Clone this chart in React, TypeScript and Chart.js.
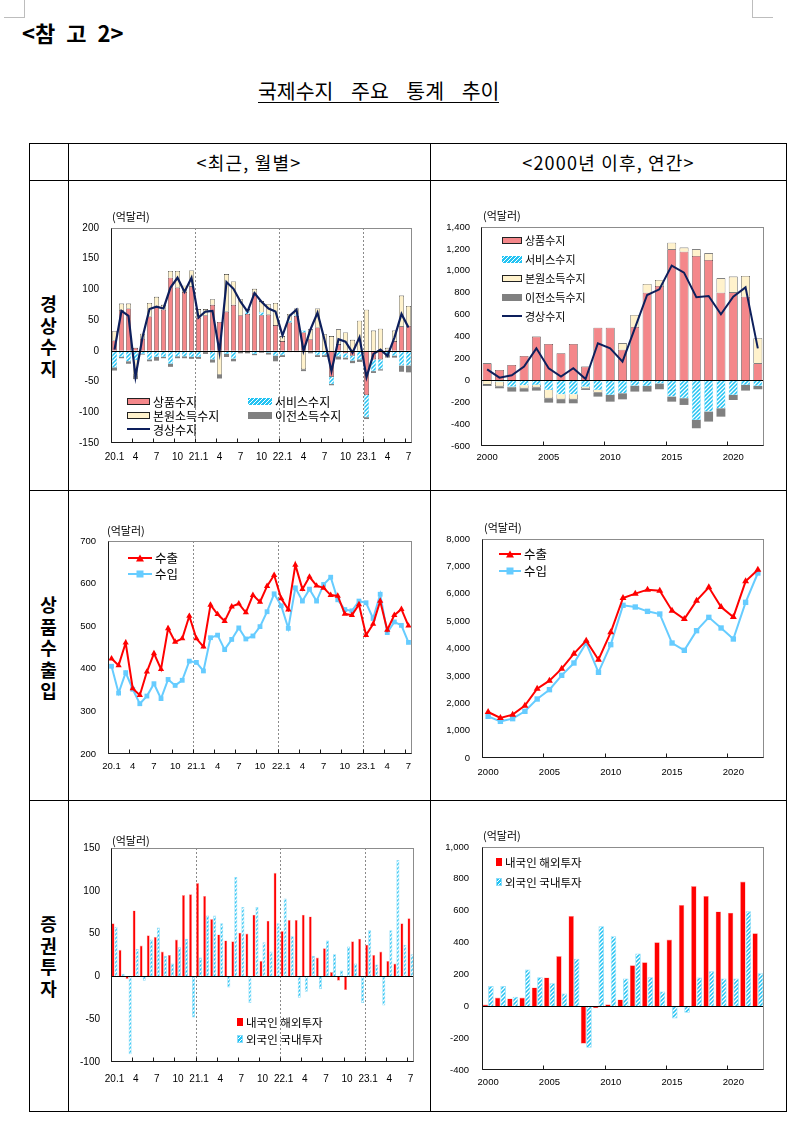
import React, { useEffect, useRef } from 'react';
import { Chart, registerables } from 'chart.js';

Chart.register(...registerables);
Chart.defaults.font.family = '"Liberation Sans", Arial, sans-serif';
Chart.defaults.color = '#000';

const KFONT = '"Noto Sans CJK KR", "Noto Sans", sans-serif';

// ---------------- data ----------------
const monthLabels = [
  '20.1', '', '', '4', '', '', '7', '', '', '10', '', '',
  '21.1', '', '', '4', '', '', '7', '', '', '10', '', '',
  '22.1', '', '', '4', '', '', '7', '', '', '10', '', '',
  '23.1', '', '', '4', '', '', '7',
];
const yearLabels = [
  '2000', '', '', '', '', '2005', '', '', '', '', '2010', '', '', '', '',
  '2015', '', '', '', '', '2020', '', '',
];

// 경상수지 (monthly, 억달러)
const caGoodsM = [17, 66, 69, 5, 20, 56, 72, 67, 119, 103, 96, 105, 54, 58, 75, 47, 64, 75, 58, 60, 95, 58, 59, 42, 16, 46, 57, 30, 19, 38, -2, -42, 11, -4, -8, 0, -72, -14, -14, 2, 16, 40, 41];
const caServM = [-27, -10, -17, -15, -5, -14, -10, -10, -21, -9, -9, -10, -10, -2, -14, -2, -5, -13, -1, 4, -5, 5, -3, -8, -7, 3, 2, 3, -2, -7, -5, -12, -9, -7, -8, -14, -36, -19, -16, -6, -8, -24, -24];
const caPrimM = [15, 11, 8, -25, 8, 22, 16, 8, 11, 27, 10, 26, 14, 10, 9, -37, 61, 38, 26, 4, 6, 18, 17, 36, 8, 11, 10, -30, 16, 31, 27, 24, 24, 30, 18, 49, 67, 33, 36, 3, 17, 50, 32];
const caTransM = [-5, -2, -4, -6, -1, -3, -6, -2, -5, -3, -3, -3, -3, -3, -5, -6, -5, -4, -3, -4, -2, -3, -3, -9, -3, -2, -2, -3, -2, -3, -3, -2, -5, -3, -4, -4, -3, -3, -2, -5, -3, -10, -11];
const caM = [2, 65, 57, -42, 22, 68, 72, 69, 103, 119, 96, 119, 54, 64, 65, -2, 112, 101, 80, 64, 94, 80, 69, 64, 25, 57, 67, 0, 35, 62, 18, -33, 19, 15, -3, 22, -43, -5, 2, -8, 22, 60, 38];

// 경상수지 (annual, 억달러)
const caGoodsY = [155, 95, 140, 222, 399, 332, 247, 332, 125, 481, 481, 280, 487, 800, 861, 1196, 1175, 1135, 1099, 800, 803, 764, 155];
const caServY = [-5, -10, -58, -46, -43, -88, -128, -128, -58, -88, -134, -119, -50, -52, -30, -149, -164, -362, -286, -256, -134, -43, -52];
const caPrimY = [-35, -45, -9, -27, -21, -76, -45, -45, -18, -24, 0, 58, 110, 80, 55, 61, 37, 61, 61, 131, 144, 189, 229];
const caTransY = [-12, -18, -36, -30, -30, -40, -37, -37, -12, -37, -61, -55, -53, -51, -52, -46, -61, -76, -91, -76, -46, -51, -30];
const caY = [100, 24, 46, 125, 292, 110, 35, 110, 12, 338, 292, 170, 475, 779, 831, 1047, 983, 758, 770, 603, 764, 849, 292];

// 상품수출입 (monthly)
const expM = [424, 408, 461, 354, 338, 393, 436, 399, 495, 463, 471, 524, 471, 452, 550, 528, 512, 546, 553, 532, 573, 557, 594, 620, 565, 539, 644, 587, 616, 595, 590, 573, 571, 529, 526, 551, 479, 505, 559, 491, 526, 540, 501];
const impM = [406, 343, 391, 352, 318, 336, 365, 330, 375, 361, 373, 418, 415, 395, 473, 479, 445, 469, 496, 470, 477, 499, 534, 576, 548, 495, 590, 559, 587, 559, 598, 615, 562, 539, 536, 559, 555, 518, 575, 485, 510, 502, 462];

// 상품수출입 (annual)
const expY = [1680, 1461, 1583, 1912, 2533, 2825, 3263, 3811, 4286, 3592, 4590, 5844, 6003, 6149, 6112, 5382, 5077, 5747, 6234, 5516, 5150, 6453, 6880];
const impY = [1522, 1339, 1437, 1705, 2155, 2496, 3020, 3470, 4200, 3129, 4140, 5577, 5516, 5357, 5260, 4200, 3933, 4651, 5138, 4749, 4347, 5686, 6758];

// 증권투자 (monthly)
const secOutM = [62, 31, -3, 77, 36, 48, 46, 29, 25, 43, 95, 96, 109, 94, 67, 49, 42, 41, 51, 50, 72, 18, 65, 121, 53, 66, 66, 72, 70, 22, 33, 5, -5, -16, 41, 44, 37, 25, 29, 18, 15, 62, 68];
const secInM = [58, 3, -91, 32, -5, 43, 57, 24, 15, 34, 44, -48, 22, 71, 71, 62, -13, 116, 81, -31, 81, 40, 29, 62, 91, 47, -25, -18, 24, -15, 42, 26, 7, 35, 15, -31, 54, 14, -34, 54, 136, 37, 26];

// 증권투자 (annual)
const secOutY = [11, 55, 49, 55, 118, 181, 315, 567, -235, -13, 12, 43, 258, 277, 402, 419, 636, 755, 693, 595, 588, 783, 459];
const secInY = [127, 127, 60, 231, 183, 145, 80, 298, -260, 503, 440, 175, 331, 183, 93, -76, -41, 181, 220, 175, 175, 596, 208];

// ---------------- helpers ----------------
type Box = { left: number; top: number; width: number; height: number; yW: number; padTop: number; padRight: number; xH: number };

const HATCH_BASE = '#22C3F3';

function makeHatch(): CanvasPattern | string {
  const c = document.createElement('canvas');
  c.width = 4;
  c.height = 4;
  const g = c.getContext('2d');
  if (!g) return HATCH_BASE;
  g.fillStyle = HATCH_BASE;
  g.fillRect(0, 0, 4, 4);
  g.strokeStyle = '#ffffff';
  g.lineWidth = 1.3;
  g.beginPath();
  g.moveTo(0, 4); g.lineTo(4, 0);
  g.moveTo(-1, 1); g.lineTo(1, -1);
  g.moveTo(3, 5); g.lineTo(5, 3);
  g.stroke();
  return g.createPattern(c, 'repeat') || HATCH_BASE;
}

function framePlugin(o: { n: number; tickEvery: number; dashEvery?: number; zero?: boolean }) {
  return {
    id: 'frame',
    beforeDatasetsDraw(chart: any) {
      const { ctx, chartArea: a, scales } = chart;
      const x = scales.x;
      const step = x.getPixelForValue(1) - x.getPixelForValue(0);
      ctx.save();
      if (o.dashEvery) {
        ctx.strokeStyle = '#8a8a8a';
        ctx.lineWidth = 1;
        ctx.setLineDash([2, 2]);
        for (let i = o.dashEvery; i < o.n; i += o.dashEvery) {
          const px = Math.round(x.getPixelForValue(i) - step / 2) + 0.5;
          ctx.beginPath();
          ctx.moveTo(px, a.top);
          ctx.lineTo(px, a.bottom);
          ctx.stroke();
        }
        ctx.setLineDash([]);
      }
      ctx.restore();
    },
    afterDatasetsDraw(chart: any) {
      const { ctx, chartArea: a, scales } = chart;
      const x = scales.x;
      const y = scales.y;
      const step = x.getPixelForValue(1) - x.getPixelForValue(0);
      const L = Math.round(a.left) + 0.5;
      const R = Math.round(a.right) - 0.5;
      const T = Math.round(a.top) + 0.5;
      const B = Math.round(a.bottom) - 0.5;
      ctx.save();
      ctx.lineWidth = 1;
      if (o.zero) {
        const py = Math.round(y.getPixelForValue(0)) + 0.5;
        ctx.strokeStyle = '#000';
        ctx.beginPath();
        ctx.moveTo(L, py);
        ctx.lineTo(R, py);
        ctx.stroke();
      }
      ctx.strokeStyle = '#8c8c8c';
      ctx.strokeRect(L, T, R - L, B - T);
      ctx.strokeStyle = '#1a1a1a';
      ctx.beginPath();
      ctx.moveTo(L, T);
      ctx.lineTo(L, B);
      ctx.lineTo(R, B);
      ctx.stroke();
      ctx.beginPath();
      for (let i = 0; i <= o.n; i += o.tickEvery) {
        const px = Math.round(x.getPixelForValue(i) - step / 2) + 0.5;
        ctx.moveTo(px, B);
        ctx.lineTo(px, B - 4);
      }
      ctx.stroke();
      ctx.restore();
    },
  };
}

function baseOptions(b: Box, o: { min: number; max: number; step: number; comma?: boolean; xPad: number; yPad: number; font: number; stacked?: boolean }) {
  return {
    responsive: false,
    maintainAspectRatio: false,
    animation: false,
    events: [],
    layout: { padding: { top: b.padTop, right: b.padRight, left: 0, bottom: 0 } },
    plugins: { legend: { display: false }, tooltip: { enabled: false } },
    scales: {
      x: {
        type: 'category',
        offset: true,
        stacked: !!o.stacked,
        // invisible tick marks give the label gap without inflating layout padding
        grid: { display: false, drawTicks: true, tickLength: o.xPad, tickColor: 'rgba(0,0,0,0)' },
        border: { display: false },
        ticks: { autoSkip: false, maxRotation: 0, minRotation: 0, padding: 0, font: { size: o.font }, color: '#000' },
        afterFit: (s: any) => { s.height = b.xH; },
      },
      y: {
        min: o.min,
        max: o.max,
        stacked: !!o.stacked,
        grid: { display: false, drawTicks: true, tickLength: o.yPad, tickColor: 'rgba(0,0,0,0)' },
        border: { display: false },
        ticks: {
          stepSize: o.step,
          padding: 0,
          font: { size: o.font },
          color: '#000',
          callback: (v: any) => (o.comma ? Number(v).toLocaleString('en-US') : String(v)),
        },
        afterFit: (s: any) => { s.width = b.yW; },
      },
    },
  };
}

// ---------------- chart boxes ----------------
const B1: Box = { left: 70, top: 220, width: 350, height: 250, yW: 41, padTop: 8, padRight: 8, xH: 27 };
const B2: Box = { left: 432, top: 215, width: 342, height: 255, yW: 49, padTop: 12, padRight: 10, xH: 24 };
const B3: Box = { left: 70, top: 530, width: 350, height: 250, yW: 38, padTop: 11, padRight: 8, xH: 26 };
const B4: Box = { left: 432, top: 528, width: 342, height: 252, yW: 50, padTop: 11, padRight: 10, xH: 22 };
const B5: Box = { left: 70, top: 838, width: 350, height: 252, yW: 41, padTop: 10, padRight: 6, xH: 28 };
const B6: Box = { left: 432, top: 836, width: 342, height: 254, yW: 50, padTop: 11, padRight: 10, xH: 20 };

const GOODS = '#F4878A';
const PRIM = '#FFF2CC';
const TRANS = '#808080';
const CA_LINE = '#0D1F5C';
const EXP = '#FF0000';
const IMP = '#66CCFF';

function caConfig(b: Box, labels: string[], goods: number[], serv: number[], prim: number[], trans: number[], ca: number[], y: any, monthly: boolean) {
  const hatch = makeHatch();
  const bp = 0.72;
  return {
    type: 'bar',
    data: {
      labels,
      datasets: [
        { label: '상품수지', data: goods, backgroundColor: GOODS, borderColor: '#222', borderWidth: 0.6, stack: 's', order: 1, barPercentage: bp, categoryPercentage: 1 },
        { label: '서비스수지', data: serv, backgroundColor: hatch, borderColor: '#3ccaf5', borderWidth: 0.4, stack: 's', order: 1, barPercentage: bp, categoryPercentage: 1 },
        { label: '본원소득수지', data: prim, backgroundColor: PRIM, borderColor: '#222', borderWidth: 0.6, stack: 's', order: 1, barPercentage: bp, categoryPercentage: 1 },
        { label: '이전소득수지', data: trans, backgroundColor: TRANS, borderWidth: 0, stack: 's', order: 1, barPercentage: bp, categoryPercentage: 1 },
        { type: 'line', label: '경상수지', data: ca, borderColor: CA_LINE, backgroundColor: CA_LINE, borderWidth: monthly ? 2.2 : 2, pointRadius: 0, tension: 0, stack: 'line', order: 0 },
      ],
    },
    options: baseOptions(b, { ...y, stacked: true }),
    plugins: [framePlugin({ n: labels.length, tickEvery: monthly ? 3 : 5, dashEvery: monthly ? 12 : undefined, zero: true })],
  };
}

function tradeConfig(b: Box, labels: string[], exp: number[], imp: number[], y: any, monthly: boolean) {
  return {
    type: 'line',
    data: {
      labels,
      datasets: [
        { label: '수출', data: exp, borderColor: EXP, backgroundColor: EXP, borderWidth: 2, pointStyle: 'triangle', pointRadius: monthly ? 3.6 : 4, pointBorderWidth: 0, tension: 0 },
        { label: '수입', data: imp, borderColor: IMP, backgroundColor: IMP, borderWidth: 2, pointStyle: 'rect', pointRadius: monthly ? 3.4 : 3.8, pointBorderWidth: 0, tension: 0 },
      ],
    },
    options: baseOptions(b, y),
    plugins: [framePlugin({ n: labels.length, tickEvery: monthly ? 3 : 5, dashEvery: monthly ? 12 : undefined })],
  };
}

function secConfig(b: Box, labels: string[], out: number[], inn: number[], y: any, monthly: boolean) {
  const hatch = makeHatch();
  const cp = monthly ? 0.86 : 0.9;
  return {
    type: 'bar',
    data: {
      labels,
      datasets: [
        { label: '내국인 해외투자', data: out, backgroundColor: '#FF0000', borderColor: '#FF9F9F', borderWidth: 0.6, barPercentage: 1, categoryPercentage: cp },
        { label: '외국인 국내투자', data: inn, backgroundColor: hatch, borderColor: '#8FDCF8', borderWidth: 0.8, barPercentage: 1, categoryPercentage: cp },
      ],
    },
    options: baseOptions(b, y),
    plugins: [framePlugin({ n: labels.length, tickEvery: monthly ? 3 : 5, dashEvery: monthly ? 12 : undefined, zero: true })],
  };
}

function ChartCanvas({ box, build }: { box: Box; build: () => any }) {
  const ref = useRef<HTMLCanvasElement>(null);
  useEffect(() => {
    if (!ref.current) return;
    const chart = new Chart(ref.current, build());
    return () => chart.destroy();
  }, []);
  return (
    <canvas
      ref={ref}
      width={box.width}
      height={box.height}
      style={{ position: 'absolute', left: box.left, top: box.top, width: box.width, height: box.height, display: 'block' }}
    />
  );
}

// ---------------- html pieces ----------------
function Label({ x, y, size, text, weight }: { x: number; y: number; size: number; text: string; weight?: number }) {
  const lh = Math.round(size * 1.4);
  return (
    <div style={{ position: 'absolute', left: x, top: y - lh / 2, fontSize: size, lineHeight: lh + 'px', fontFamily: KFONT, whiteSpace: 'nowrap', color: '#000', fontWeight: weight || 400 }}>
      {text}
    </div>
  );
}

const HATCH_CSS = `repeating-linear-gradient(135deg, ${HATCH_BASE} 0px, ${HATCH_BASE} 1.6px, #ffffff 1.6px, #ffffff 2.8px)`;

function Swatch({ x, y, w, h, bg, border }: { x: number; y: number; w: number; h: number; bg: string; border?: string }) {
  return (
    <div style={{ position: 'absolute', left: x, top: y - h / 2, width: w, height: h, background: bg, border: border || 'none', boxSizing: 'border-box' }} />
  );
}

function LineKey({ x, y, w, color, marker }: { x: number; y: number; w: number; color: string; marker?: 'tri' | 'sq' }) {
  const cx = w / 2;
  return (
    <svg style={{ position: 'absolute', left: x, top: y - 6 }} width={w} height={12}>
      <line x1={0} y1={6} x2={w} y2={6} stroke={color} strokeWidth={2} />
      {marker === 'tri' && <polygon points={`${cx - 4},9.5 ${cx + 4},9.5 ${cx},2.5`} fill={color} />}
      {marker === 'sq' && <rect x={cx - 3.5} y={2.5} width={7} height={7} fill={color} />}
    </svg>
  );
}

function VLabel({ text, cy }: { text: string; cy: number }) {
  const lh = 21.5;
  const chars = Array.from(text);
  const h = chars.length * lh;
  return (
    <div style={{ position: 'absolute', left: 29, width: 39, top: cy - h / 2, textAlign: 'center', fontFamily: KFONT, fontWeight: 700, fontSize: 18, lineHeight: lh + 'px', color: '#000' }}>
      {chars.map((c, i) => (
        <div key={i}>{c}</div>
      ))}
    </div>
  );
}

const T_LEFT = 29;
const T_RIGHT = 787;
const T_TOP = 143;
const T_BOTTOM = 1112;

export default function App() {
  const hLines = [180, 490, 800];
  const vLines = [68, 430];
  return (
    <div style={{ position: 'absolute', left: 0, top: 0, width: 804, height: 1127, background: '#fff', overflow: 'hidden' }}>
      {/* page corner marks */}
      <div style={{ position: 'absolute', left: 24, top: 0, width: 1, height: 17, background: '#bdbdbd' }} />
      <div style={{ position: 'absolute', left: 4, top: 17, width: 21, height: 1, background: '#bdbdbd' }} />
      <div style={{ position: 'absolute', left: 752, top: 0, width: 1, height: 17, background: '#bdbdbd' }} />
      <div style={{ position: 'absolute', left: 752, top: 17, width: 21, height: 1, background: '#bdbdbd' }} />

      <div style={{ position: 'absolute', left: 22, top: 17, fontFamily: KFONT, fontWeight: 700, fontSize: 22, lineHeight: '30px', wordSpacing: 6, whiteSpace: 'nowrap' }}>
        {'<참 고 2>'}
      </div>

      <div style={{ position: 'absolute', left: 258, top: 79, fontFamily: KFONT, fontSize: 20.5, lineHeight: '22px', wordSpacing: 13, whiteSpace: 'nowrap', borderBottom: '1px solid #000', paddingBottom: 1 }}>
        국제수지 주요 통계 추이
      </div>

      {/* table */}
      <div style={{ position: 'absolute', left: T_LEFT, top: T_TOP, width: T_RIGHT - T_LEFT, height: T_BOTTOM - T_TOP, border: '1px solid #000', boxSizing: 'border-box' }} />
      {hLines.map((y) => (
        <div key={'h' + y} style={{ position: 'absolute', left: T_LEFT, top: y, width: T_RIGHT - T_LEFT, height: 1, background: '#000' }} />
      ))}
      {vLines.map((x) => (
        <div key={'v' + x} style={{ position: 'absolute', left: x, top: T_TOP, width: 1, height: T_BOTTOM - T_TOP, background: '#000' }} />
      ))}
      <div style={{ position: 'absolute', left: 68, width: 362, top: 149, lineHeight: '26px', textAlign: 'center', fontFamily: KFONT, fontSize: 18, letterSpacing: 1.2 }}>
        {'<최근, 월별>'}
      </div>
      <div style={{ position: 'absolute', left: 430, width: 357, top: 149, lineHeight: '26px', textAlign: 'center', fontFamily: KFONT, fontSize: 18, letterSpacing: 1.2 }}>
        {'<2000년 이후, 연간>'}
      </div>
      <VLabel text="경상수지" cy={336} />
      <VLabel text="상품수출입" cy={648} />
      <VLabel text="증권투자" cy={956} />

      {/* charts */}
      <ChartCanvas box={B1} build={() => caConfig(B1, monthLabels, caGoodsM, caServM, caPrimM, caTransM, caM, { min: -150, max: 200, step: 50, xPad: 8, yPad: 12, font: 10 }, true)} />
      <ChartCanvas box={B2} build={() => caConfig(B2, yearLabels, caGoodsY, caServY, caPrimY, caTransY, caY, { min: -600, max: 1400, step: 200, comma: true, xPad: 6, yPad: 11, font: 9.5 }, false)} />
      <ChartCanvas box={B3} build={() => tradeConfig(B3, monthLabels, expM, impM, { min: 200, max: 700, step: 100, xPad: 7, yPad: 12, font: 9.5 }, true)} />
      <ChartCanvas box={B4} build={() => tradeConfig(B4, yearLabels, expY, impY, { min: 0, max: 8000, step: 1000, comma: true, xPad: 9, yPad: 12, font: 9.5 }, false)} />
      <ChartCanvas box={B5} build={() => secConfig(B5, monthLabels, secOutM, secInM, { min: -100, max: 150, step: 50, xPad: 11, yPad: 11, font: 10 }, true)} />
      <ChartCanvas box={B6} build={() => secConfig(B6, yearLabels, secOutY, secInY, { min: -400, max: 1000, step: 200, comma: true, xPad: 7, yPad: 13, font: 9.5 }, false)} />

      {/* unit labels */}
      <Label x={112} y={216} size={11} text="(억달러)" />
      <Label x={483} y={215} size={11} text="(억달러)" />
      <Label x={107} y={530} size={11} text="(억달러)" />
      <Label x={484} y={527} size={11} text="(억달러)" />
      <Label x={112} y={840} size={11} text="(억달러)" />
      <Label x={483} y={835} size={11} text="(억달러)" />

      {/* legend chart 1 */}
      <Swatch x={127} y={401} w={23} h={7} bg={GOODS} border="1px solid #222" />
      <Label x={153} y={401} size={12} text="상품수지" />
      <Swatch x={248} y={401} w={24} h={7} bg={HATCH_CSS} />
      <Label x={275} y={401} size={12} text="서비스수지" />
      <Swatch x={127} y={415} w={23} h={7} bg={PRIM} border="1px solid #222" />
      <Label x={153} y={415} size={12} text="본원소득수지" />
      <Swatch x={248} y={415} w={24} h={7} bg={TRANS} />
      <Label x={275} y={415} size={12} text="이전소득수지" />
      <LineKey x={127} y={429} w={23} color={CA_LINE} />
      <Label x={153} y={429} size={12} text="경상수지" />

      {/* legend chart 2 */}
      <Swatch x={502} y={240} w={20} h={7} bg={GOODS} border="1px solid #222" />
      <Label x={525} y={240} size={11} text="상품수지" />
      <Swatch x={502} y={259} w={20} h={7} bg={HATCH_CSS} />
      <Label x={525} y={259} size={11} text="서비스수지" />
      <Swatch x={502} y={278} w={20} h={7} bg={PRIM} border="1px solid #222" />
      <Label x={525} y={278} size={11} text="본원소득수지" />
      <Swatch x={502} y={297} w={20} h={7} bg={TRANS} />
      <Label x={525} y={297} size={11} text="이전소득수지" />
      <LineKey x={502} y={316} w={20} color={CA_LINE} />
      <Label x={525} y={316} size={11} text="경상수지" />

      {/* legend chart 3 */}
      <LineKey x={128} y={558} w={24} color={EXP} marker="tri" />
      <Label x={155} y={558} size={12.5} text="수출" />
      <LineKey x={128} y={574} w={24} color={IMP} marker="sq" />
      <Label x={155} y={574} size={12.5} text="수입" />

      {/* legend chart 4 */}
      <LineKey x={499} y={554} w={22} color={EXP} marker="tri" />
      <Label x={524} y={554} size={12.5} text="수출" />
      <LineKey x={499} y={571} w={22} color={IMP} marker="sq" />
      <Label x={524} y={571} size={12.5} text="수입" />

      {/* legend chart 5 */}
      <Swatch x={237} y={1022} w={6} h={8} bg="#FF0000" />
      <Label x={246} y={1022} size={11.5} text="내국인 해외투자" />
      <Swatch x={237} y={1039} w={6} h={8} bg={HATCH_CSS} border="1px solid #8FDCF8" />
      <Label x={246} y={1039} size={11.5} text="외국인 국내투자" />

      {/* legend chart 6 */}
      <Swatch x={496} y={862} w={6} h={8} bg="#FF0000" />
      <Label x={505} y={862} size={11.5} text="내국인 해외투자" />
      <Swatch x={496} y={882} w={6} h={8} bg={HATCH_CSS} border="1px solid #8FDCF8" />
      <Label x={505} y={882} size={11.5} text="외국인 국내투자" />
    </div>
  );
}
